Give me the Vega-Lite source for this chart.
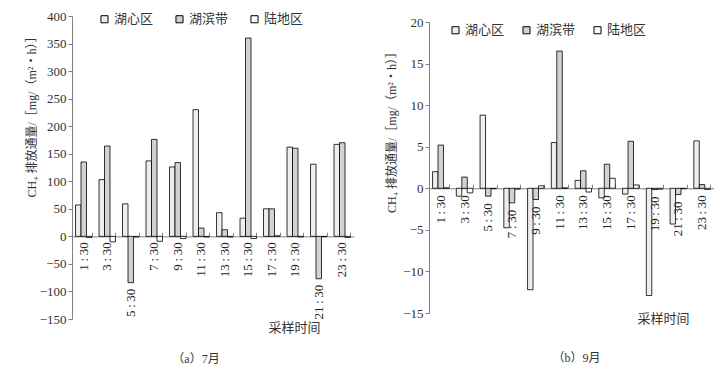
{
  "$schema": "https://vega.github.io/schema/vega-lite/v6.json",
  "background": "white",
  "padding": {"left": 24, "top": 10, "right": 0, "bottom": 0},
  "bounds": "flush",
  "center": true,
  "spacing": 75,
  "datasets": {
    "july": [
      {"t": "1\u2009:\u200930", "湖心区": 57, "湖滨带": 135, "陆地区": -2},
      {"t": "3\u2009:\u200930", "湖心区": 103, "湖滨带": 164, "陆地区": -10},
      {"t": "5\u2009:\u200930", "湖心区": 59, "湖滨带": -84, "陆地区": -1},
      {"t": "7\u2009:\u200930", "湖心区": 137, "湖滨带": 176, "陆地区": -9},
      {"t": "9\u2009:\u200930", "湖心区": 126, "湖滨带": 134, "陆地区": -4},
      {"t": "11\u2009:\u200930", "湖心区": 230, "湖滨带": 15, "陆地区": -1},
      {"t": "13\u2009:\u200930", "湖心区": 43, "湖滨带": 12, "陆地区": -1},
      {"t": "15\u2009:\u200930", "湖心区": 33, "湖滨带": 360, "陆地区": -4},
      {"t": "17\u2009:\u200930", "湖心区": 50, "湖滨带": 50, "陆地区": 1},
      {"t": "19\u2009:\u200930", "湖心区": 162, "湖滨带": 160, "陆地区": -1},
      {"t": "21\u2009:\u200930", "湖心区": 131, "湖滨带": -77, "陆地区": -0.5},
      {"t": "23\u2009:\u200930", "湖心区": 167, "湖滨带": 170, "陆地区": -2}
    ],
    "sept": [
      {"t": "1\u2009:\u200930", "湖心区": 2.0, "湖滨带": 5.2, "陆地区": 0.05},
      {"t": "3\u2009:\u200930", "湖心区": -0.95, "湖滨带": 1.35, "陆地区": -0.55},
      {"t": "5\u2009:\u200930", "湖心区": 8.8, "湖滨带": -0.95, "陆地区": -0.05},
      {"t": "7\u2009:\u200930", "湖心区": -4.75, "湖滨带": -1.75, "陆地区": -0.1},
      {"t": "9\u2009:\u200930", "湖心区": -12.2, "湖滨带": -1.35, "陆地区": 0.3},
      {"t": "11\u2009:\u200930", "湖心区": 5.5, "湖滨带": 16.5, "陆地区": 0.05},
      {"t": "13\u2009:\u200930", "湖心区": 0.95, "湖滨带": 2.1, "陆地区": -0.45},
      {"t": "15\u2009:\u200930", "湖心区": -1.15, "湖滨带": 2.9, "陆地区": 1.2},
      {"t": "17\u2009:\u200930", "湖心区": -0.7, "湖滨带": 5.65, "陆地区": 0.4},
      {"t": "19\u2009:\u200930", "湖心区": -12.9, "湖滨带": -0.15, "陆地区": -0.1},
      {"t": "21\u2009:\u200930", "湖心区": -4.3, "湖滨带": -0.75, "陆地区": -0.05},
      {"t": "23\u2009:\u200930", "湖心区": 5.7, "湖滨带": 0.45, "陆地区": -0.15}
    ]
  },
  "hconcat": [
    {
      "data": {"name": "july"},
      "width": 282,
      "height": 303,
      "title": {"text": "（a）7月", "orient": "bottom", "anchor": "middle", "frame": "group", "dx": -17, "offset": 20, "font": "Liberation Serif, Noto Sans CJK SC", "fontSize": 12, "fontWeight": "normal", "color": "#333333"},
      "encoding": {
        "x": {"field": "t", "type": "nominal", "sort": null,
          "scale": {"paddingInner": 0.3, "paddingOuter": 0.15},
          "axis": {"orient": "bottom", "offset": -82.64, "labels": false, "ticks": true, "tickBand": "extent", "tickSize": -4, "tickColor": "#808080", "domainColor": "#808080",
            "title": "采样时间", "titleX": 222, "titleY": 91, "titleAlign": "center", "titleBaseline": "middle", "titleAngle": 0,
            "titleFont": "Liberation Serif, Noto Sans CJK SC", "titleFontSize": 13, "titleFontWeight": "normal", "titleColor": "#333333"}},
        "y": {"field": "value", "type": "quantitative",
          "scale": {"domain": [-150, 400], "nice": false},
          "axis": {"values": [-150, -100, -50, 0, 50, 100, 150, 200, 250, 300, 350, 400], "labelOverlap": false, "grid": false, "tickSize": 4, "tickColor": "#808080", "domainColor": "#808080",
            "labelFont": "Liberation Serif", "labelFontSize": 13, "labelColor": "#333333", "labelPadding": 2,
            "title": "CH₄ 排放通量/［mg/（m²・h）］", "titleFont": "Liberation Serif, Noto Sans CJK SC", "titleFontSize": 12, "titleFontWeight": "normal", "titleColor": "#333333",
            "titleX": -41, "titleY": 97.5, "titleAngle": 270, "titleAlign": "center", "titleBaseline": "middle"}}
      },
      "layer": [
        {
          "transform": [{"fold": ["湖心区", "湖滨带", "陆地区"], "as": ["series", "value"]}],
          "mark": {"type": "bar", "stroke": "black", "strokeWidth": 0.8},
          "encoding": {
            "xOffset": {"field": "series", "type": "nominal", "sort": ["湖心区", "湖滨带", "陆地区"], "scale": {"paddingInner": 0}},
            "fill": {"field": "series", "type": "nominal",
              "scale": {"domain": ["湖心区", "湖滨带", "陆地区"], "range": ["#eeeeee", "#d2d2d2", "#ffffff"]},
              "legend": {"orient": "none", "legendX": 26, "legendY": -3.5, "direction": "horizontal", "title": null, "symbolType": "square", "symbolSize": 50,
                "symbolStrokeColor": "black", "symbolStrokeWidth": 1, "labelFont": "Liberation Serif, Noto Sans CJK SC", "labelFontSize": 13, "labelColor": "#333333",
                "columnPadding": 19, "labelOffset": 3, "padding": 0}}
          }
        },
        {
          "transform": [{"calculate": "min(0, datum['湖滨带'])", "as": "value"}],
          "mark": {"type": "text", "angle": 270, "align": "right", "baseline": "middle", "dx": -6, "font": "Liberation Serif", "fontSize": 13, "color": "#222222"},
          "encoding": {
            "text": {"field": "t"}
          }
        }
      ]
    },
    {
      "data": {"name": "sept"},
      "width": 285,
      "height": 291,
      "title": {"text": "（b）9月", "orient": "bottom", "anchor": "middle", "frame": "group", "dx": 5, "offset": 27, "font": "Liberation Serif, Noto Sans CJK SC", "fontSize": 12, "fontWeight": "normal", "color": "#333333"},
      "encoding": {
        "x": {"field": "t", "type": "nominal", "sort": null,
          "scale": {"paddingInner": 0.3, "paddingOuter": 0.15},
          "axis": {"orient": "bottom", "offset": -124.71, "labels": false, "ticks": true, "tickBand": "extent", "tickSize": -4, "tickColor": "#808080", "domainColor": "#808080",
            "title": "采样时间", "titleX": 234, "titleY": 130.7, "titleAlign": "center", "titleBaseline": "middle", "titleAngle": 0,
            "titleFont": "Liberation Serif, Noto Sans CJK SC", "titleFontSize": 13, "titleFontWeight": "normal", "titleColor": "#333333"}},
        "y": {"field": "value", "type": "quantitative",
          "scale": {"domain": [-15, 20], "nice": false},
          "axis": {"values": [-15, -10, -5, 0, 5, 10, 15, 20], "labelOverlap": false, "grid": false, "tickSize": 4, "tickColor": "#808080", "domainColor": "#808080",
            "labelFont": "Liberation Serif", "labelFontSize": 13, "labelColor": "#333333", "labelPadding": 2,
            "title": "CH₄ 排放通量/［mg/（m²・h）］", "titleFont": "Liberation Serif, Noto Sans CJK SC", "titleFontSize": 12, "titleFontWeight": "normal", "titleColor": "#333333",
            "titleX": -38, "titleY": 107, "titleAngle": 270, "titleAlign": "center", "titleBaseline": "middle"}}
      },
      "layer": [
        {
          "transform": [{"fold": ["湖心区", "湖滨带", "陆地区"], "as": ["series", "value"]}],
          "mark": {"type": "bar", "stroke": "black", "strokeWidth": 0.8},
          "encoding": {
            "xOffset": {"field": "series", "type": "nominal", "sort": ["湖心区", "湖滨带", "陆地区"], "scale": {"paddingInner": 0}},
            "fill": {"field": "series", "type": "nominal",
              "scale": {"domain": ["湖心区", "湖滨带", "陆地区"], "range": ["#eeeeee", "#d2d2d2", "#ffffff"]},
              "legend": {"orient": "none", "legendX": 20, "legendY": 1.5, "direction": "horizontal", "title": null, "symbolType": "square", "symbolSize": 50,
                "symbolStrokeColor": "black", "symbolStrokeWidth": 1, "labelFont": "Liberation Serif, Noto Sans CJK SC", "labelFontSize": 13, "labelColor": "#333333",
                "columnPadding": 15, "labelOffset": 3, "padding": 0}}
          }
        },
        {
          "transform": [{"calculate": "min(0, datum['湖滨带'])", "as": "value"}],
          "mark": {"type": "text", "angle": 270, "align": "right", "baseline": "middle", "dx": -7, "font": "Liberation Serif", "fontSize": 13, "color": "#222222"},
          "encoding": {
            "text": {"field": "t"}
          }
        }
      ]
    }
  ],
  "resolve": {"scale": {"fill": "independent"}, "legend": {"fill": "independent"}},
  "config": {"view": {"stroke": null}, "axis": {"labelOverlap": false}}
}
